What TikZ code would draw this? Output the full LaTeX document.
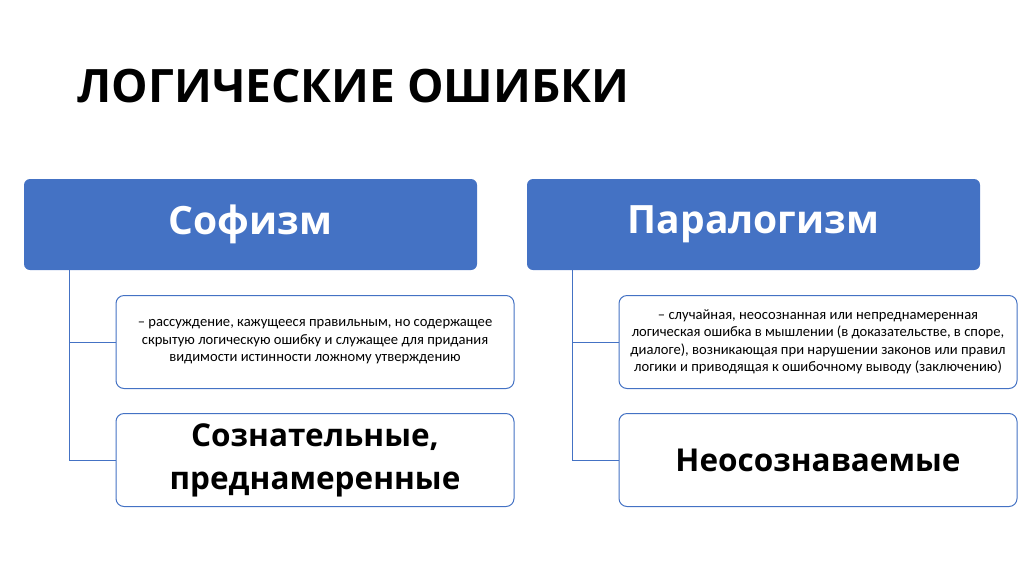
\documentclass[tikz,border=0pt]{standalone}
\usepackage{fontspec}
\setmainfont{Open Sans}
\newfontfamily\smallf{Carlito}
\definecolor{hblue}{HTML}{4472C4}
\begin{document}
\begin{tikzpicture}[x=1pt,y=-1pt,
 head/.style={fill=hblue,rounded corners=6pt,minimum width=453pt,minimum height=91pt,text=white,font=\fontsize{39}{44}\selectfont\bfseries},
 sub/.style={draw=hblue,line width=1pt,fill=white,rounded corners=8pt,minimum width=398pt,minimum height=93pt,align=center},
 conn/.style={draw=hblue,line width=1pt}]
\useasboundingbox (0,0) rectangle (1024,574);
\node[anchor=west,font=\fontsize{46}{50}\selectfont\bfseries] (title) at (74,86) {ЛОГИЧЕСКИЕ ОШИБКИ};
\node[head] (h1) at (250.5,224.5) {Софизм};
\node[head] (h2) at (753.5,224.5) {Паралогизм};
\node[sub,font=\smallf\fontsize{14.6}{17.5}\selectfont] (a1) at (315,342) {– рассуждение, кажущееся правильным, но содержащее\\скрытую логическую ошибку и служащее для придания\\видимости истинности ложному утверждению};
\node[sub,font=\fontsize{31.5}{43}\selectfont\bfseries] (a2) at (315,460) {Сознательные,\\преднамеренные};
\node[sub,font=\smallf\fontsize{14.6}{17.5}\selectfont] (b1) at (818,342) {– случайная, неосознанная или непреднамеренная\\логическая ошибка в мышлении (в доказательстве, в споре,\\диалоге), возникающая при нарушении законов или правил\\логики и приводящая к ошибочному выводу (заключению)};
\node[sub,font=\fontsize{31.5}{40}\selectfont\bfseries] (b2) at (818,460) {Неосознаваемые};
\coordinate (l1) at (69,270);
\coordinate (l2) at (572,270);
\draw[conn] (l1) -- (l1 |- a2) -- (a2.west);
\draw[conn] (l1 |- a1) -- (a1.west);
\draw[conn] (l2) -- (l2 |- b2) -- (b2.west);
\draw[conn] (l2 |- b1) -- (b1.west);
\end{tikzpicture}
\end{document}
